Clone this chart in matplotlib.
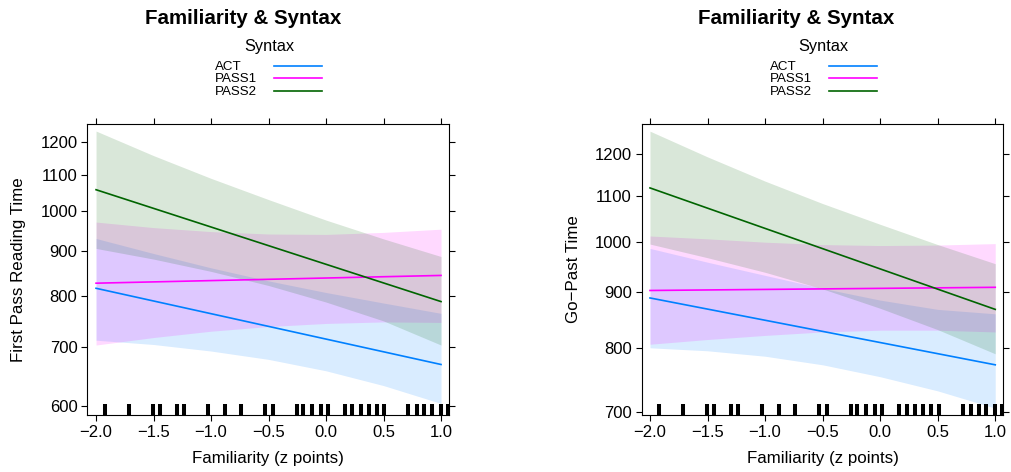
import matplotlib
matplotlib.use("Agg")
import matplotlib.pyplot as plt
from matplotlib.lines import Line2D
from matplotlib.ticker import FixedLocator, NullLocator, FuncFormatter
import matplotlib.transforms as mtransforms

plt.rcParams["font.family"] = ["Liberation Sans", "DejaVu Sans"]

# ---- data -------------------------------------------------------------
syntax_levels = ["ACT", "PASS1", "PASS2"]
syntax_colors = ["#0080FF", "#FF00FF", "#006400"]

# familiarity values where the confidence limits are given
familiarity_grid = [-2.0, -1.5, -1.0, -0.5, 0.0, 0.5, 1.0]
fit_x = [-2.0, 1.0]

# First pass reading time: fitted line (at -2 and 1) and 95% limits
fpr_fit = [[817, 669], [828, 845], [1058, 789]]
fpr_lower = [
    [713, 705, 693, 678, 658, 633, 604],
    [704, 718, 730, 739, 745, 748, 747],
    [907, 882, 854, 823, 788, 750, 704],
]
fpr_upper = [
    [931, 895, 862, 833, 808, 786, 765],
    [972, 958, 948, 942, 941, 946, 954],
    [1234, 1157, 1090, 1031, 977, 930, 888],
]

# Go-past time
gp_fit = [[889, 773], [903, 909], [1119, 868]]
gp_lower = [
    [801, 796, 787, 773, 754, 732, 706],
    [807, 815, 822, 828, 831, 831, 828],
    [995, 967, 938, 906, 870, 832, 791],
]
gp_upper = [
    [986, 958, 932, 907, 885, 868, 860],
    [1012, 1006, 999, 994, 992, 993, 996],
    [1260, 1194, 1135, 1083, 1037, 994, 955],
]

# observed familiarity scores (rug)
familiarity_obs = [-1.922, -1.713, -1.507, -1.443, -1.298, -1.237, -1.026,
                   -0.878, -0.742, -0.530, -0.463, -0.255, -0.197, -0.119,
                   -0.043, 0.015, 0.165, 0.229, 0.304, 0.374, 0.441, 0.507,
                   0.716, 0.789, 0.855, 0.924, 0.997, 1.058]

x_ticks = [-2.0, -1.5, -1.0, -0.5, 0.0, 0.5, 1.0]
fpr_ticks = [600, 700, 800, 900, 1000, 1100, 1200]
gp_ticks = [700, 800, 900, 1000, 1100, 1200]

# ---- figure -----------------------------------------------------------
W, H = 1011, 472
fig = plt.figure(figsize=(W / 100, H / 100), dpi=100)


def fx(px):
    return px / W


def fy(py):
    return 1 - py / H


def panel(rect, fits, lowers, uppers, yticks, ylim, xlim):
    ax = fig.add_axes(rect)
    ax.set_yscale("log")
    for lo, up, col in zip(lowers, uppers, syntax_colors):
        ax.fill_between(familiarity_grid, lo, up, color=col, alpha=0.15,
                        linewidth=0)
    for fit, col in zip(fits, syntax_colors):
        ax.plot(fit_x, fit, color=col, linewidth=1.2)
    trans = mtransforms.blended_transform_factory(ax.transData, ax.transAxes)
    ax.vlines(familiarity_obs, 0, 0.038, transform=trans, color="black",
              linewidth=2.9)
    ax.set_xlim(*xlim)
    ax.set_ylim(*ylim)
    ax.xaxis.set_major_locator(FixedLocator(x_ticks))
    ax.yaxis.set_major_locator(FixedLocator(yticks))
    ax.yaxis.set_minor_locator(NullLocator())
    ax.xaxis.set_minor_locator(NullLocator())
    ax.yaxis.set_major_formatter(FuncFormatter(lambda v, p: f"{v:.0f}"))
    ax.tick_params(direction="out", length=4.6, width=0.8, labelsize=12,
                   top=True, right=True, labeltop=False, labelright=False,
                   pad=2.5)
    for s in ax.spines.values():
        s.set_linewidth(0.8)
    return ax


panel([fx(87.3), fy(415), fx(362), 291 / H], fpr_fit, fpr_lower, fpr_upper,
      fpr_ticks, (586, 1257), (-2.076, 1.072))
panel([fx(641.7), fy(415), fx(361.6), 291 / H], gp_fit, gp_lower, gp_upper,
      gp_ticks, (696, 1279), (-2.072, 1.07))

# titles, axis labels and keys
for title_x, panel_cx, ylab_x, ylab in [
        (243.5, 268.3, 18.3, "First Pass Reading Time"),
        (796.5, 822.5, 573.3, "Go\u2212Past Time")]:
    fig.text(fx(title_x), fy(19), "Familiarity & Syntax", ha="center",
             va="center", fontsize=14.8, fontweight="bold")
    fig.text(fx(panel_cx), fy(458), "Familiarity (z points)", ha="center",
             va="center", fontsize=12.2)
    fig.text(fx(ylab_x), fy(269.5), ylab, ha="center", va="center",
             rotation=90, fontsize=12.2)
    fig.text(fx(panel_cx + 1), fy(47), "Syntax", ha="center", va="center",
             fontsize=11.8)
    for i, (lev, col) in enumerate(zip(syntax_levels, syntax_colors)):
        yy = 66.5 + i * 12.8
        fig.text(fx(panel_cx - 53), fy(yy), lev, ha="left", va="center",
                 fontsize=9.6)
        fig.add_artist(Line2D([fx(panel_cx + 6), fx(panel_cx + 54)],
                              [fy(yy - 1), fy(yy - 1)], color=col,
                              linewidth=1.2, transform=fig.transFigure))

fig.savefig("out.png", dpi=100)
